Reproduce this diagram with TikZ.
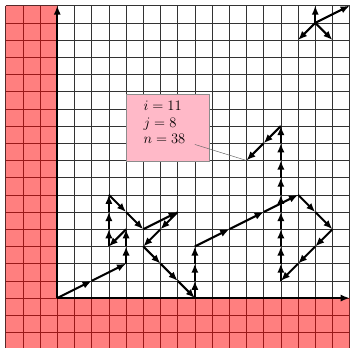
\documentclass[tikz,border=0pt]{standalone}
\usetikzlibrary{arrows.meta}
\definecolor{boxpink}{RGB}{255,185,200}
\begin{document}
\begin{tikzpicture}[x=0.5cm,y=0.5cm,
  gridline/.style={black!80, line width=0.35pt, step=0.5cm},
  redzone/.style={fill=red, fill opacity=0.5},
  axisline/.style={line width=1.7pt, -{Latex[length=7.5pt,width=6pt]}},
  stepline/.style={line width=1.7pt, -{Latex[length=7.5pt,width=6pt]}},
  infobox/.style={draw=black!45, fill=boxpink, line width=0.4pt, inner sep=0pt},
  infotext/.style={anchor=base west, inner sep=0pt, font=\fontsize{11.8}{14}\selectfont},
  callout/.style={black!60, line width=0.4pt}]
\useasboundingbox (-3.33,-2.9) rectangle (17.02,17.33);
\draw[gridline] (-3,-3) grid (17,17);
\fill[redzone] (-3,-3) -- (17,-3) -- (17,0) -- (0,0) -- (0,17) -- (-3,17) -- cycle;
\coordinate (o) at (0,0);
\coordinate (xend) at (17,0);
\coordinate (yend) at (0,17);
\draw[axisline] (o) -- (xend);
\draw[axisline] (o) -- (yend);
% walk vertices
\foreach \x/\y [count=\k from 0] in {0/0,2/1,4/2,4/3,4/4,3/3,3/4,3/5,3/6,4/5,5/4,7/5,6/4,5/3,6/2,7/1,8/0,8/1,8/2,8/3,10/4,12/5,14/6,15/5,16/4,15/3,14/2,13/1,13/2,13/3,13/4,13/5,13/6,13/7,13/8,13/9,13/10,12/9,11/8}
  \coordinate (p\k) at (\x,\y);
\foreach \k [count=\j] in {0,...,37}
  \draw[stepline] (p\k) -- (p\j);
% step set
\coordinate (s) at (15,16);
\coordinate (s1) at (15,17);
\coordinate (s2) at (17,17);
\coordinate (s3) at (14,15);
\coordinate (s4) at (16,15);
\foreach \t in {s1,s2,s3,s4}
  \draw[stepline] (s) -- (\t);
% info box
\node[infobox, minimum width=2.42cm, minimum height=1.945cm, anchor=south west] (box) at (4,7.95) {};
\node[infotext] (ti) at (5,10.93) {$i=11$};
\node[infotext] (tj) at (5,9.92) {$j=8$};
\node[infotext] (tn) at (5,8.99) {$n=38$};
\coordinate (cstart) at (8.0,8.93);
\draw[callout] (cstart) -- (p38);
\end{tikzpicture}
\end{document}
